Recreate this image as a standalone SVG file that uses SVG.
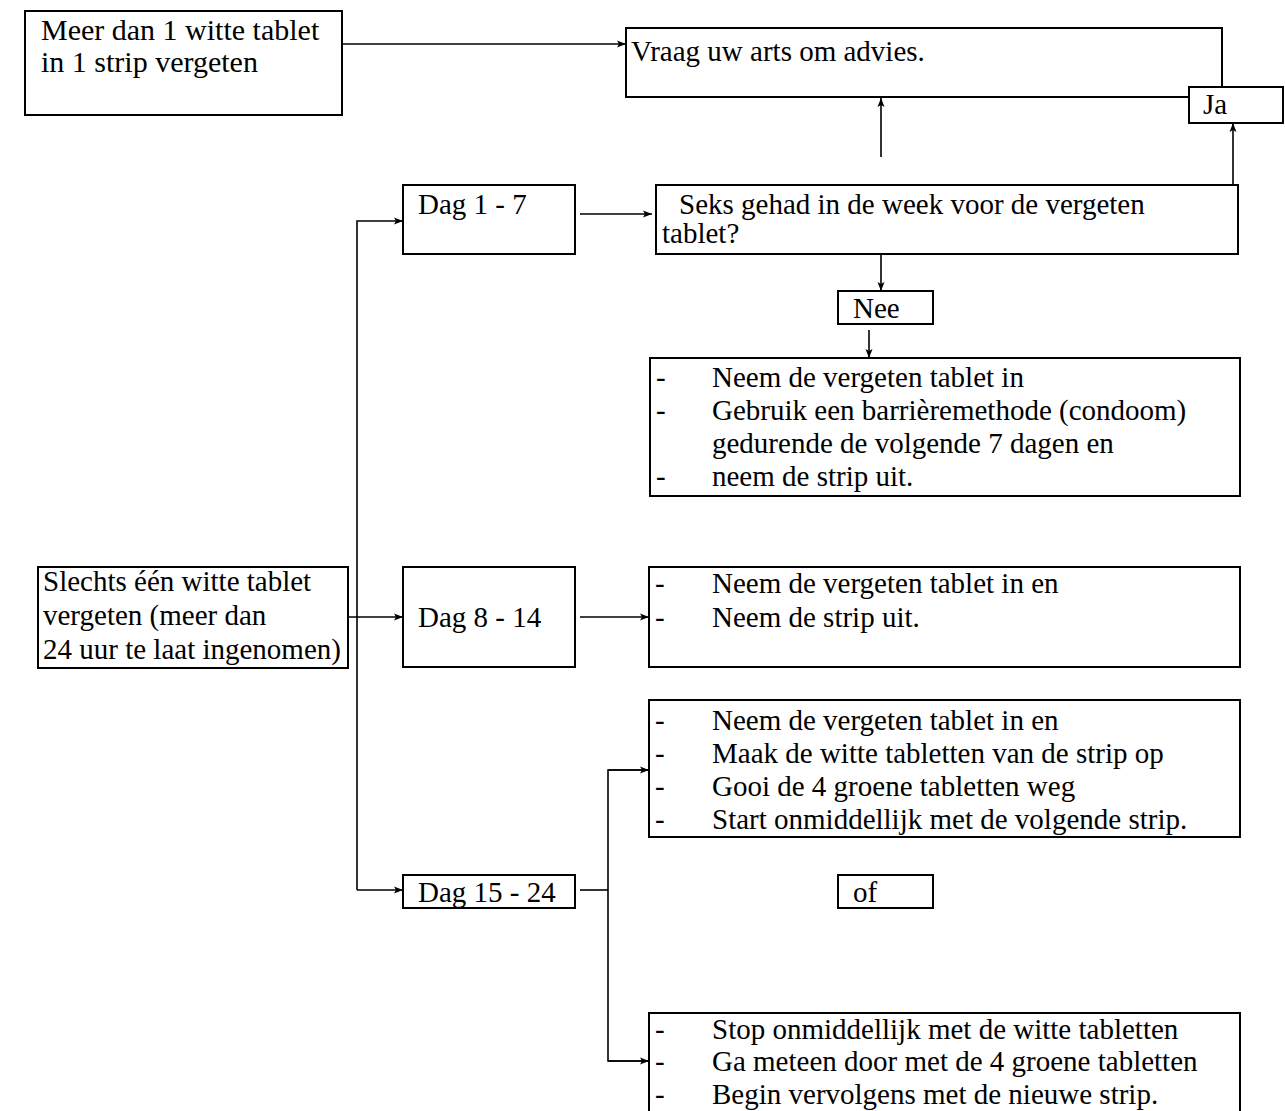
<svg xmlns="http://www.w3.org/2000/svg" width="1285" height="1111" viewBox="0 0 1285 1111">
<style>
.box{fill:#fff;stroke:#000;stroke-width:2}
.c{fill:none;stroke:#000;stroke-width:1.6}
.t{font-family:"Liberation Serif","Times New Roman",serif;font-size:29px;fill:#000}
.big{font-size:30px}
</style>
<defs>
<marker id="ah" markerUnits="userSpaceOnUse" markerWidth="10" markerHeight="10" refX="9" refY="4" orient="auto">
<path d="M0,0.5 L9,4 L0,7.5 L2,4 z" fill="#000"/>
</marker>
</defs>
<rect width="1285" height="1111" fill="#fff"/>
<g id="connectors">
<line class="c" x1="342" y1="44" x2="626" y2="44" marker-end="url(#ah)"/>
<line class="c" x1="881" y1="157" x2="881" y2="98" marker-end="url(#ah)"/>
<line class="c" x1="1233" y1="185" x2="1233" y2="123" marker-end="url(#ah)"/>
<polyline class="c" points="357,890 357,221 403,221" marker-end="url(#ah)"/>
<line class="c" x1="357" y1="890" x2="403" y2="890" marker-end="url(#ah)"/>
<line class="c" x1="580" y1="214" x2="652" y2="214" marker-end="url(#ah)"/>
<line class="c" x1="881" y1="254" x2="881" y2="291" marker-end="url(#ah)"/>
<line class="c" x1="869" y1="330" x2="869" y2="358" marker-end="url(#ah)"/>
<line class="c" x1="348" y1="617" x2="403" y2="617" marker-end="url(#ah)"/>
<line class="c" x1="580" y1="617" x2="649" y2="617" marker-end="url(#ah)"/>
<line class="c" x1="580" y1="890" x2="608" y2="890"/>
<polyline class="c" points="649,770 608,770 608,1061 649,1061"/>
<line class="c" x1="608" y1="770" x2="649" y2="770" marker-end="url(#ah)"/>
<line class="c" x1="608" y1="1061" x2="649" y2="1061" marker-end="url(#ah)"/>
</g>
<g id="n-meer">
<rect class="box" x="25" y="11" width="317" height="104"/>
<text class="t big"><tspan x="41" y="40">Meer dan 1 witte tablet</tspan><tspan x="41" y="72">in 1 strip vergeten</tspan></text>
</g>
<g id="n-vraag">
<rect class="box" x="626" y="28" width="596" height="69"/>
<text class="t" x="631" y="61">Vraag uw arts om advies.</text>
</g>
<g id="n-ja">
<rect class="box" x="1189" y="87" width="94" height="36"/>
<text class="t" x="1203" y="114">Ja</text>
</g>
<g id="n-dag1">
<rect class="box" x="403" y="185" width="172" height="69"/>
<text class="t" x="418" y="214">Dag 1 - 7</text>
</g>
<g id="n-seks">
<rect class="box" x="656" y="185" width="582" height="69"/>
<text class="t"><tspan x="679" y="214">Seks gehad in de week voor de vergeten</tspan><tspan x="662" y="243">tablet?</tspan></text>
</g>
<g id="n-nee">
<rect class="box" x="838" y="291" width="95" height="33"/>
<text class="t" x="853" y="318">Nee</text>
</g>
<g id="n-opt1">
<rect class="box" x="650" y="358" width="590" height="138"/>
<text class="t"><tspan x="656" y="387">-</tspan><tspan x="712" y="387">Neem de vergeten tablet in</tspan><tspan x="656" y="420">-</tspan><tspan x="712" y="420">Gebruik een barrièremethode (condoom)</tspan><tspan x="712" y="453">gedurende de volgende 7 dagen en</tspan><tspan x="656" y="486">-</tspan><tspan x="712" y="486">neem de strip uit.</tspan></text>
</g>
<g id="n-slechts">
<rect class="box" x="38" y="567" width="310" height="101"/>
<text class="t"><tspan x="43" y="591">Slechts één witte tablet</tspan><tspan x="43" y="625">vergeten (meer dan</tspan><tspan x="43" y="659">24 uur te laat ingenomen)</tspan></text>
</g>
<g id="n-dag8">
<rect class="box" x="403" y="567" width="172" height="100"/>
<text class="t" x="418" y="627">Dag 8 - 14</text>
</g>
<g id="n-opt2">
<rect class="box" x="649" y="567" width="591" height="100"/>
<text class="t"><tspan x="655" y="593">-</tspan><tspan x="712" y="593">Neem de vergeten tablet in en</tspan><tspan x="655" y="627">-</tspan><tspan x="712" y="627">Neem de strip uit.</tspan></text>
</g>
<g id="n-opt3">
<rect class="box" x="649" y="700" width="591" height="137"/>
<text class="t"><tspan x="655" y="730">-</tspan><tspan x="712" y="730">Neem de vergeten tablet in en</tspan><tspan x="655" y="763">-</tspan><tspan x="712" y="763">Maak de witte tabletten van de strip op</tspan><tspan x="655" y="796">-</tspan><tspan x="712" y="796">Gooi de 4 groene tabletten weg</tspan><tspan x="655" y="829">-</tspan><tspan x="712" y="829">Start onmiddellijk met de volgende strip.</tspan></text>
</g>
<g id="n-dag15">
<rect class="box" x="403" y="875" width="172" height="33"/>
<text class="t" x="418" y="902">Dag 15 - 24</text>
</g>
<g id="n-of">
<rect class="box" x="838" y="875" width="95" height="33"/>
<text class="t" x="853" y="902">of</text>
</g>
<g id="n-opt4">
<rect class="box" x="649" y="1013" width="591" height="110"/>
<text class="t"><tspan x="655" y="1039">-</tspan><tspan x="712" y="1039">Stop onmiddellijk met de witte tabletten</tspan><tspan x="655" y="1071">-</tspan><tspan x="712" y="1071">Ga meteen door met de 4 groene tabletten</tspan><tspan x="655" y="1104">-</tspan><tspan x="712" y="1104">Begin vervolgens met de nieuwe strip.</tspan></text>
</g>
</svg>
